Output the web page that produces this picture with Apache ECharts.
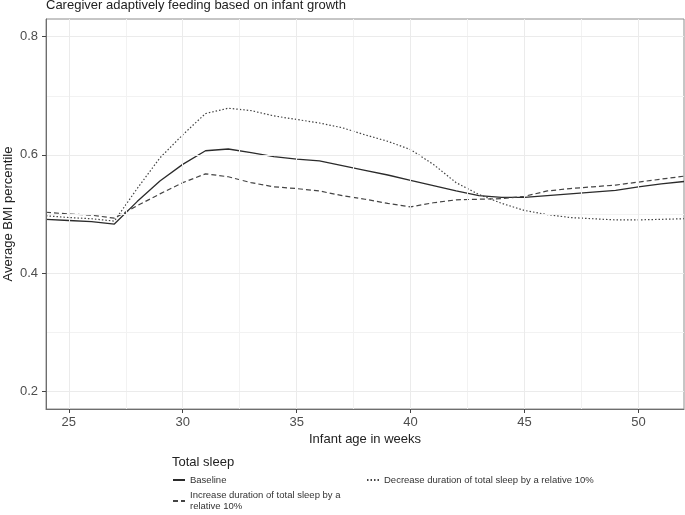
<!DOCTYPE html>
<html>
<head>
<meta charset="utf-8">
<script src="https://cdn.jsdelivr.net/npm/echarts@6/dist/echarts.min.js"></script>
<style>html,body{margin:0;padding:0;background:#fff}#c{width:685px;height:515px}</style>
</head>
<body>
<div id="c"></div>
<script>
const weeks = [24,25,26,27,28,29,30,31,32,33,34,35,36,37,38,39,40,41,42,43,44,45,46,47,48,49,50,51,52];
const baseline = [0.491,0.489,0.487,0.483,0.521,0.556,0.584,0.607,0.610,0.604,0.597,0.593,0.590,0.582,0.574,0.566,0.557,0.548,0.539,0.531,0.528,0.528,0.531,0.534,0.537,0.540,0.546,0.551,0.555];
const increase = [0.503,0.500,0.498,0.493,0.514,0.534,0.553,0.568,0.563,0.553,0.546,0.543,0.539,0.531,0.525,0.518,0.512,0.519,0.524,0.525,0.526,0.530,0.539,0.543,0.546,0.549,0.554,0.559,0.564];
const decrease = [0.497,0.494,0.492,0.488,0.543,0.595,0.634,0.670,0.679,0.675,0.666,0.660,0.654,0.646,0.634,0.623,0.609,0.584,0.553,0.533,0.518,0.506,0.499,0.494,0.492,0.490,0.490,0.491,0.492];
const xTicks = [25,30,35,40,45,50];
const xMinor = [27.5,32.5,37.5,42.5,47.5];
const yTicks = [0.2,0.4,0.6,0.8];
const yMinor = [0.3,0.5,0.7];
const names = ['Baseline','Increase duration of total sleep by a\nrelative 10%','Decrease duration of total sleep by a relative 10%'];

const FONT = '"Liberation Sans", Arial, sans-serif';
const pair = arr => weeks.map((w,i)=>[w,arr[i]]);
const minorStyle = {color:'#f2f2f2', width:1, type:'solid', opacity:1};
const majorStyle = {color:'#ebebeb', width:1, type:'solid', opacity:1};
const gridLines = [].concat(
  xMinor.map(v=>({xAxis:v, lineStyle:minorStyle})),
  yMinor.map(v=>({yAxis:v, lineStyle:minorStyle})),
  xTicks.map(v=>({xAxis:v, lineStyle:majorStyle})),
  yTicks.map(v=>({yAxis:v, lineStyle:majorStyle}))
);

const chart = echarts.init(document.getElementById('c'), null, {renderer:'canvas'});
const legendText = {fontFamily:FONT, fontSize:9.5, color:'#333'};
const legendCommon = {padding:0, itemWidth:12, itemHeight:10, itemGap:5, itemStyle:{opacity:0, borderWidth:0}, textStyle:legendText};
chart.setOption({
  animation:false,
  textStyle:{fontFamily:FONT},
  title:[
    {text:'Caregiver adaptively feeding based on infant growth', left:46, top:-1, padding:0,
     textStyle:{fontFamily:FONT, fontSize:13, fontWeight:'normal', color:'#222'}},
    {text:'Total sleep', left:172, top:456, padding:0,
     textStyle:{fontFamily:FONT, fontSize:13, fontWeight:'normal', color:'#222'}}
  ],
  grid:{left:46, right:1, top:19, bottom:106, containLabel:false, outerBoundsMode:'none',
    show:true, borderColor:'#8c8c8c', borderWidth:1, backgroundColor:'#fff'},
  legend:[
    Object.assign({data:[names[0]], left:172, top:475}, legendCommon),
    Object.assign({data:[names[2]], left:366, top:475}, legendCommon),
    Object.assign({}, legendCommon, {data:[names[1]], left:172, top:484.5,
     textStyle:Object.assign({}, legendText, {lineHeight:11, padding:[11,0,0,0]})})
  ],
  xAxis:{type:'value', min:24, max:52, z:5,
    name:'Infant age in weeks', nameLocation:'middle', nameGap:24, nameMoveOverlap:false,
    nameTextStyle:{fontFamily:FONT, fontSize:13, color:'#222'},
    axisLine:{show:true, lineStyle:{color:'#6e6e6e', width:1}},
    axisTick:{show:true, length:4, customValues:xTicks, lineStyle:{color:'#444'}},
    axisLabel:{customValues:xTicks, margin:7, fontSize:13, color:'#4d4d4d', fontFamily:FONT},
    splitLine:{show:false}},
  yAxis:{type:'value', min:0.17, max:0.83, z:5,
    name:'Average BMI percentile', nameLocation:'middle', nameGap:31, nameMoveOverlap:false,
    nameTextStyle:{fontFamily:FONT, fontSize:13, color:'#222'},
    axisLine:{show:true, lineStyle:{color:'#6e6e6e', width:1}},
    axisTick:{show:true, length:4, customValues:yTicks, lineStyle:{color:'#444'}},
    axisLabel:{customValues:yTicks, margin:8, fontSize:13, color:'#4d4d4d', fontFamily:FONT,
      formatter:v=>v.toFixed(1)},
    splitLine:{show:false}},
  series:[
    {type:'line', name:'_grid', data:[], z:1, silent:true,
     markLine:{silent:true, symbol:['none','none'], label:{show:false}, animation:false,
       lineStyle:{type:'solid', color:'#ebebeb', width:1}, emphasis:{disabled:true},
       data:gridLines}},
    {type:'line', name:names[0], data:pair(baseline), z:3, symbol:'none', showSymbol:false,
     lineStyle:{color:'#2b2b2b', width:1.3, type:'solid'}, itemStyle:{color:'#2b2b2b'}},
    {type:'line', name:names[1], data:pair(increase), z:3, symbol:'none', showSymbol:false,
     lineStyle:{color:'#444', width:1.2, type:[5,3]}, itemStyle:{color:'#444'}},
    {type:'line', name:names[2], data:pair(decrease), z:3, symbol:'none', showSymbol:false,
     lineStyle:{color:'#444', width:1.2, type:[1.5,2]}, itemStyle:{color:'#444'}}
  ]
});
</script>
</body>
</html>
